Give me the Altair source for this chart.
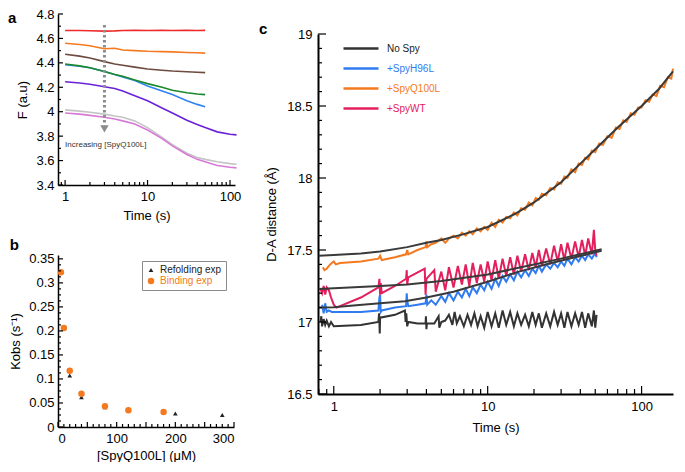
import altair as alt
import pandas as pd

FONT = "Liberation Sans"

# ---------------- panel a : fluorescence traces ----------------
A_T50 = [1, 1.5, 2, 3, 4, 5, 7, 10, 15, 20, 30, 40, 50]
A_T120 = [1, 1.5, 2, 3, 4, 5, 7, 10, 15, 20, 30, 40, 50, 70, 100, 120]
A_RED = [4.665, 4.665, 4.663, 4.66, 4.662, 4.665, 4.667, 4.665, 4.666, 4.665, 4.667, 4.665, 4.666]
A_ORANGE = [4.56, 4.55, 4.54, 4.515, 4.52, 4.505, 4.50, 4.495, 4.492, 4.49, 4.485, 4.483, 4.48]
A_BROWN = [4.47, 4.455, 4.44, 4.41, 4.39, 4.38, 4.365, 4.35, 4.34, 4.333, 4.327, 4.323, 4.32]
A_GREEN = [4.39, 4.375, 4.36, 4.33, 4.305, 4.29, 4.26, 4.23, 4.20, 4.175, 4.155, 4.145, 4.14]
A_BLUE = [4.385, 4.372, 4.36, 4.33, 4.305, 4.285, 4.255, 4.21, 4.17, 4.14, 4.09, 4.06, 4.04]
A_PURPLE = [4.245, 4.235, 4.225, 4.205, 4.19, 4.17, 4.13, 4.09, 4.03, 3.99, 3.93, 3.895, 3.87, 3.835, 3.815, 3.81]
A_GRAY = [4.015, 4.005, 3.995, 3.98, 3.965, 3.955, 3.925, 3.87, 3.79, 3.73, 3.66, 3.625, 3.61, 3.59, 3.575, 3.57]
A_PINK = [3.99, 3.98, 3.97, 3.955, 3.94, 3.925, 3.90, 3.85, 3.78, 3.72, 3.65, 3.61, 3.59, 3.56, 3.545, 3.54]
A_NAMES = ["red", "orange", "brown", "blue", "green", "purple", "gray", "pink"]
A_COLORS = ["#ee2b2b", "#f47a20", "#6e4b3f", "#2f84f0", "#1c8a2c", "#6a22d8", "#c4c4c4", "#d77ad7"]
A_ARROW_T = 3
A_ARROW_TOP = 4.71
A_ARROW_END = 3.89
A_ARROW_HEAD = 3.86
A_NOTE = "Increasing [SpyQ100L]"
A_NOTE_T = 1.0
A_NOTE_V = 3.725
A_XMAJ = [1, 10, 100]
A_XMIN = [0.9, 2, 3, 4, 5, 6, 7, 8, 9, 20, 30, 40, 50, 60, 70, 80, 90]
A_YMAJ = [3.4, 3.6, 3.8, 4.0, 4.2, 4.4, 4.6, 4.8]
A_YMIN = [3.5, 3.7, 3.9, 4.1, 4.3, 4.5, 4.7]

# ---------------- panel b : Kobs ----------------
B_BIND_X = [5, 10, 20, 40, 80, 120, 180]
B_BIND_Y = [0.322, 0.206, 0.117, 0.069, 0.043, 0.035, 0.031]
B_REF_X = [20, 40, 80, 200, 280]
B_REF_Y = [0.107, 0.062, 0.041, 0.028, 0.025]
B_NAMES = ["Refolding exp", "Binding exp"]
B_XMAJ = [0, 50, 100, 150, 200, 250, 300]
B_XMIN = [10, 20, 30, 40, 60, 70, 80, 90, 110, 120, 130, 140, 160, 170, 180, 190,
          210, 220, 230, 240, 260, 270, 280, 290]
B_YMAJ = [0, 0.05, 0.1, 0.15, 0.2, 0.25, 0.3, 0.35]
B_YMIN = [0.0125, 0.025, 0.0375, 0.0625, 0.075, 0.0875, 0.1125, 0.125, 0.1375,
          0.1625, 0.175, 0.1875, 0.2125, 0.225, 0.2375, 0.2625, 0.275, 0.2875,
          0.3125, 0.325, 0.3375]

# ---------------- panel c : D-A distance ----------------
C_NAMES = ["No Spy", "+SpyH96L", "+SpyQ100L", "+SpyWT"]
C_COLORS = ["#333333", "#2f7bef", "#f47a20", "#e3205d"]
C_ORANGE = [(0.85, 17.38), (0.87, 17.36), (0.90, 17.37), (0.93, 17.39), (0.97, 17.41), (1.0, 17.42),
            (1.03, 17.40), (1.1, 17.41), (1.5, 17.42), (1.95, 17.44), (2.0, 17.46), (2.05, 17.43),
            (2.5, 17.45), (2.95, 17.47), (3.0, 17.50), (3.05, 17.47), (3.5, 17.50), (3.95, 17.52),
            (4.0, 17.56), (4.05, 17.52), (4.3, 17.54), (4.6, 17.55), (5.0, 17.58), (5.3, 17.55),
            (5.6, 17.58), (6.0, 17.60), (6.4, 17.58), (6.8, 17.62), (7.2, 17.60), (7.6, 17.63),
            (8.0, 17.61), (8.5, 17.65), (9.0, 17.63), (9.5, 17.66), (10, 17.64), (10.6, 17.69),
            (11.2, 17.66), (11.8, 17.71), (12.5, 17.69), (13.2, 17.73), (14, 17.72), (14.8, 17.76),
            (15.6, 17.74), (16.5, 17.79), (17.5, 17.78), (18.5, 17.83), (19.5, 17.81), (20.5, 17.86),
            (21.5, 17.85), (22.5, 17.89), (24, 17.88), (25.5, 17.93), (27, 17.92), (28.5, 17.97),
            (30, 17.96), (31.5, 18.01), (33, 18.00), (35, 18.06), (37, 18.04), (39, 18.10),
            (41, 18.09), (43, 18.14), (45, 18.13), (47.5, 18.19), (50, 18.18), (53, 18.24),
            (56, 18.23), (60, 18.29), (64, 18.28), (68, 18.35), (72, 18.34), (76, 18.40),
            (80, 18.39), (85, 18.45), (90, 18.44), (95, 18.49), (100, 18.49), (106, 18.54),
            (112, 18.53), (118, 18.58), (125, 18.57), (132, 18.64), (140, 18.63), (148, 18.70),
            (156, 18.69), (160, 18.76)]
C_BLUE = [(0.84, 17.12), (0.86, 17.06), (0.88, 17.13), (0.90, 17.07), (0.93, 17.08), (0.97, 17.07),
          (1.0, 17.07), (1.5, 17.07), (1.95, 17.08), (1.98, 17.17), (2.0, 17.19), (2.02, 17.07),
          (2.05, 17.08), (2.5, 17.10), (2.95, 17.11), (2.98, 17.20), (3.0, 17.15), (3.05, 17.11),
          (3.5, 17.12), (3.95, 17.13), (4.0, 17.19), (4.05, 17.12), (4.3, 17.15), (4.6, 17.12),
          (5.0, 17.18), (5.3, 17.14), (5.6, 17.20), (6.0, 17.15), (6.4, 17.21), (6.8, 17.17),
          (7.2, 17.23), (7.6, 17.18), (8.0, 17.24), (8.5, 17.20), (9.0, 17.26), (9.5, 17.22),
          (10, 17.28), (10.6, 17.23), (11.2, 17.30), (11.8, 17.25), (12.5, 17.32), (13.2, 17.28),
          (14, 17.33), (14.8, 17.29), (15.6, 17.35), (16.5, 17.31), (17.5, 17.36), (18.5, 17.32),
          (19.5, 17.37), (20.5, 17.34), (21.5, 17.39), (22.5, 17.35), (24, 17.40), (25.5, 17.37),
          (27, 17.41), (28.5, 17.38), (30, 17.42), (31.5, 17.39), (33, 17.44), (35, 17.40),
          (37, 17.45), (39, 17.42), (41, 17.46), (43, 17.43), (45, 17.47), (47.5, 17.44),
          (50, 17.48), (51, 17.45)]
C_PINK = [(0.82, 17.23), (0.84, 17.20), (0.86, 17.25), (0.88, 17.19), (0.90, 17.24), (0.93, 17.22),
          (0.96, 17.17), (1.0, 17.12), (1.04, 17.10), (1.5, 17.17), (1.95, 17.24), (1.98, 17.30),
          (2.0, 17.19), (2.02, 17.27), (2.05, 17.20), (2.5, 17.25), (2.95, 17.30), (2.98, 17.36),
          (3.0, 17.26), (3.05, 17.31), (3.9, 17.37), (3.95, 17.19), (4.0, 17.30), (4.5, 17.36),
          (4.6, 17.21), (5.0, 17.35), (5.3, 17.22), (5.6, 17.38), (6.0, 17.24), (6.4, 17.39),
          (6.8, 17.26), (7.2, 17.40), (7.6, 17.25), (8.0, 17.41), (8.5, 17.27), (9.0, 17.40),
          (9.5, 17.28), (10, 17.42), (10.6, 17.29), (11.2, 17.43), (11.8, 17.30), (12.5, 17.44),
          (13.2, 17.32), (14, 17.45), (14.8, 17.33), (15.6, 17.46), (16.5, 17.35), (17.5, 17.47),
          (18.5, 17.36), (19.5, 17.48), (20.5, 17.38), (21.5, 17.50), (22.5, 17.39), (24, 17.51),
          (25.5, 17.40), (27, 17.53), (28.5, 17.42), (30, 17.54), (31.5, 17.43), (33, 17.55),
          (35, 17.44), (37, 17.56), (39, 17.45), (41, 17.57), (43, 17.46), (45, 17.58),
          (47.5, 17.47), (49, 17.64), (50, 17.50), (51, 17.46)]
C_NOSPY = [(0.82, 17.00), (0.83, 17.04), (0.84, 16.97), (0.86, 17.02), (0.88, 16.98), (0.90, 17.01),
           (0.93, 16.97), (0.96, 17.00), (1.0, 16.97), (1.5, 16.98), (1.95, 17.00), (1.97, 17.06),
           (1.99, 16.92), (2.0, 17.03), (2.5, 17.05), (2.9, 17.08), (2.93, 17.00), (2.96, 17.06),
           (3.0, 16.97), (3.05, 17.00), (3.5, 16.99), (3.95, 16.99), (3.97, 17.04), (4.0, 16.95),
           (4.03, 16.99), (4.5, 16.99), (4.8, 17.04), (4.85, 16.96), (5.0, 17.00), (5.3, 17.01),
           (5.6, 17.05), (5.9, 16.98), (6.1, 17.07), (6.3, 16.99), (6.6, 17.04), (7.0, 16.97),
           (7.4, 17.05), (7.8, 16.98), (8.2, 17.06), (8.6, 16.97), (9.0, 17.04), (9.5, 16.96),
           (10, 17.07), (10.6, 16.97), (11.2, 17.06), (11.8, 16.96), (12.5, 17.08), (13.2, 16.98),
           (14, 17.07), (14.8, 16.97), (15.6, 17.06), (16.5, 16.98), (17.5, 17.05), (18.5, 16.97),
           (19.5, 17.07), (20.5, 16.98), (21.5, 17.06), (22.5, 16.96), (24, 17.06), (25.5, 16.97),
           (27, 17.07), (28.5, 16.98), (30, 17.06), (31.5, 16.96), (33, 17.07), (35, 16.97),
           (37, 17.06), (39, 16.98), (41, 17.07), (43, 16.96), (45, 17.06), (47.5, 16.97),
           (49, 17.08), (50, 16.96), (51, 17.05)]
C_FIT_ORANGE = [(0.8, 17.46), (1, 17.465), (1.5, 17.475), (2, 17.49), (3, 17.52), (4, 17.55), (5, 17.57),
                (7, 17.61), (10, 17.66), (15, 17.75), (20, 17.83), (30, 17.97), (40, 18.1), (50, 18.2),
                (70, 18.35), (100, 18.5), (130, 18.62), (160, 18.74)]
C_FIT_PINK = [(0.8, 17.23), (1, 17.235), (2, 17.25), (3, 17.26), (5, 17.285), (10, 17.33), (20, 17.4),
              (30, 17.44), (55, 17.505)]
C_FIT_BLUE = [(0.8, 17.1), (1, 17.103), (1.4, 17.117), (2, 17.13), (2.9, 17.144), (4, 17.17), (6, 17.21),
              (10, 17.28), (16, 17.35), (26, 17.41), (43, 17.467), (55, 17.495)]
C_XMAJ = [1, 10, 100]
C_XMIN = [0.8, 0.9, 2, 3, 4, 5, 6, 7, 8, 9, 20, 30, 40, 50, 60, 70, 80, 90]
C_YMAJ = [16.5, 17, 17.5, 18, 18.5, 19]
C_YMIN = [16.6, 16.7, 16.8, 16.9, 17.1, 17.2, 17.3, 17.4, 17.6, 17.7, 17.8, 17.9,
          18.1, 18.2, 18.3, 18.4, 18.6, 18.7, 18.8, 18.9]

A_W, A_H = 177, 171
B_W, B_H = 176, 172
C_W = 355
C_TOP = 20          # empty band above panel c's plot
C_H = C_TOP + 360   # full group height of panel c


def xticks(enc, vals, h, size):
    return alt.Chart(pd.DataFrame({"t": vals})).mark_rule(color="black", strokeWidth=1.2).encode(
        x=enc, y=alt.value(h), y2=alt.value(h - size))


def yticks(enc, vals, size):
    return alt.Chart(pd.DataFrame({"v": vals})).mark_rule(color="black", strokeWidth=1.2).encode(
        y=enc, x=alt.value(0), x2=alt.value(size))


def letter(ch, x, y):
    return alt.Chart(pd.DataFrame({"k": [ch]})).mark_text(
        align="left", baseline="middle", fontSize=15, fontWeight="bold", font=FONT, color="black").encode(
        x=alt.value(x), y=alt.value(y), text="k:N")


# ---------- panel a ----------
a_series = [A_RED, A_ORANGE, A_BROWN, A_BLUE, A_GREEN, A_PURPLE, A_GRAY, A_PINK]
a_df = pd.concat([pd.DataFrame({"t": (A_T50 if len(v) == len(A_T50) else A_T120), "v": v, "sa": n})
                  for n, v in zip(A_NAMES, a_series)], ignore_index=True)
a_x = alt.X("t:Q", scale=alt.Scale(type="log", domain=[0.82, 115], nice=False),
            axis=alt.Axis(values=A_XMAJ, format="~g", ticks=False, title="Time (s)",
                          labelPadding=5, titlePadding=6))
a_y = alt.Y("v:Q", scale=alt.Scale(domain=[3.4, 4.8], nice=False, zero=False),
            axis=alt.Axis(values=A_YMAJ, format="~g", ticks=False, title="F (a.u)",
                          labelPadding=4, titlePadding=6))
a_lines = alt.Chart(a_df).mark_line(strokeWidth=1.6).encode(
    x=a_x, y=a_y,
    color=alt.Color("sa:N", scale=alt.Scale(domain=A_NAMES, range=A_COLORS), legend=None))
a_arrow = alt.Chart(pd.DataFrame({"t": [A_ARROW_T], "v": [A_ARROW_TOP], "v2": [A_ARROW_END]})).mark_rule(
    color="#8c8c8c", strokeWidth=3, strokeDash=[2.5, 2.5]).encode(x=a_x, y=a_y, y2="v2:Q")
a_head = alt.Chart(pd.DataFrame({"t": [A_ARROW_T], "v": [A_ARROW_HEAD]})).mark_point(
    shape="triangle-down", filled=True, size=70, color="#8c8c8c", opacity=1).encode(x=a_x, y=a_y)
a_note = alt.Chart(pd.DataFrame({"t": [A_NOTE_T], "v": [A_NOTE_V], "txt": [A_NOTE]})).mark_text(
    align="left", baseline="middle", fontSize=8, color="#333333", font=FONT).encode(x=a_x, y=a_y, text="txt:N")
panel_a = alt.layer(
    a_lines, a_arrow, a_head, a_note,
    xticks(a_x, A_XMAJ, A_H, 5), xticks(a_x, A_XMIN, A_H, 3),
    yticks(a_y, A_YMAJ, 5), yticks(a_y, A_YMIN, 3), letter("a", -50, 4)
).properties(width=A_W, height=A_H)

# ---------- panel b ----------
b_df = pd.concat([
    pd.DataFrame({"t": B_REF_X, "v": B_REF_Y, "sb": B_NAMES[0]}),
    pd.DataFrame({"t": B_BIND_X, "v": B_BIND_Y, "sb": B_NAMES[1]}),
], ignore_index=True)
b_x = alt.X("t:Q", scale=alt.Scale(domain=[0, 300], nice=False),
            axis=alt.Axis(values=B_XMAJ, format="d", ticks=False, title="[SpyQ100L] (\u03bcM)",
                          labelPadding=5, titlePadding=4))
b_y = alt.Y("v:Q", scale=alt.Scale(domain=[0, 0.358], nice=False),
            axis=alt.Axis(values=B_YMAJ, format="~g", ticks=False, title="Kobs (s\u207b\u00b9)",
                          labelPadding=4, titlePadding=6))
b_legend = alt.Legend(title=None, orient="none", legendX=84, legendY=6,
                      strokeColor="#8a8a8a", fillColor="white", padding=4,
                      labelFontSize=10, rowPadding=1,
                      labelColor={"expr": "datum.label === 'Binding exp' ? '#f47a20' : '#222222'"})
b_pts = alt.Chart(b_df).mark_point(filled=True, opacity=1).encode(
    x=b_x, y=b_y,
    color=alt.Color("sb:N", scale=alt.Scale(domain=B_NAMES, range=["#222222", "#f47a20"]), legend=b_legend),
    shape=alt.Shape("sb:N", scale=alt.Scale(domain=B_NAMES, range=["triangle-up", "circle"]), legend=b_legend),
    size=alt.Size("sb:N", scale=alt.Scale(domain=B_NAMES, range=[22, 42]), legend=b_legend),
)
panel_b = alt.layer(
    b_pts, xticks(b_x, B_XMAJ, B_H, 5), xticks(b_x, B_XMIN, B_H, 3),
    yticks(b_y, B_YMAJ, 5), yticks(b_y, B_YMIN, 3)
).properties(width=B_W, height=B_H,
             title=alt.TitleParams("b", anchor="start", frame="bounds", fontSize=15,
                                   fontWeight="bold", offset=0, font=FONT))

# ---------- panel c ----------
c_x = alt.X("t:Q", scale=alt.Scale(type="log", domain=[0.79, 160], nice=False),
            axis=alt.Axis(values=C_XMAJ, format="~g", ticks=False, title="Time (s)",
                          labelPadding=6, titlePadding=8, domainWidth=2))
c_y = alt.Y("v:Q", scale=alt.Scale(domain=[16.5, 19], nice=False, zero=False, range=[C_H, C_TOP]),
            axis=alt.Axis(values=C_YMAJ, format="~g", ticks=False, title="D-A distance (\u00c5)",
                          labelPadding=6, titlePadding=8, domainWidth=2))
c_legend = alt.Legend(title=None, orient="none", legendX=19, legendY=C_TOP + 8, symbolType="M0,0H7",
                      symbolSize=100, symbolStrokeWidth=2.5, labelFontSize=10, labelOffset=37,
                      labelFontWeight="normal", rowPadding=8, padding=0,
                      labelColor={"expr": "datum.label === '+SpyH96L' ? '#2f7bef' : datum.label === '+SpyQ100L' ? '#f47a20' : datum.label === '+SpyWT' ? '#e3205d' : '#222222'"})
c_color = alt.Color("sc:N", scale=alt.Scale(domain=C_NAMES, range=C_COLORS), legend=c_legend)


def pts(series, name):
    return pd.DataFrame({"t": [p[0] for p in series], "v": [p[1] for p in series], "sc": name})


def c_line(series, name, width=2):
    return alt.Chart(pts(series, name)).mark_line(strokeWidth=width).encode(x=c_x, y=c_y, color=c_color)


def c_fit(series):
    return alt.Chart(pts(series, "fit")).mark_line(strokeWidth=2, color="#3a3a3a").encode(x=c_x, y=c_y)


panel_c = alt.layer(
    c_line(C_ORANGE, "+SpyQ100L"), c_line(C_BLUE, "+SpyH96L"), c_line(C_PINK, "+SpyWT"),
    c_fit(C_FIT_ORANGE), c_fit(C_FIT_PINK), c_fit(C_FIT_BLUE),
    c_line(C_NOSPY, "No Spy"),
    xticks(c_x, C_XMAJ, C_H, 8), xticks(c_x, C_XMIN, C_H, 5),
    yticks(c_y, C_YMAJ, 8), yticks(c_y, C_YMIN, 4), letter("c", -59, C_TOP - 5)
).properties(width=C_W, height=C_H)

left = alt.vconcat(panel_a, panel_b, spacing=15).resolve_scale(
    color="independent", shape="independent", size="independent")
chart = alt.hconcat(left, panel_c, spacing=18).resolve_scale(
    color="independent", shape="independent", size="independent"
).properties(padding=0).configure_view(
    stroke=None
).configure_axis(
    domainColor="black", domainWidth=1.5, labelFont=FONT, titleFont=FONT, labelFontSize=13,
    titleFontSize=13, titleFontWeight="normal", labelColor="black", titleColor="black", grid=False
).configure_legend(labelFont=FONT).configure_title(font=FONT, color="black")

chart.save("out.html", embed_options={"renderer": "svg", "actions": False})
